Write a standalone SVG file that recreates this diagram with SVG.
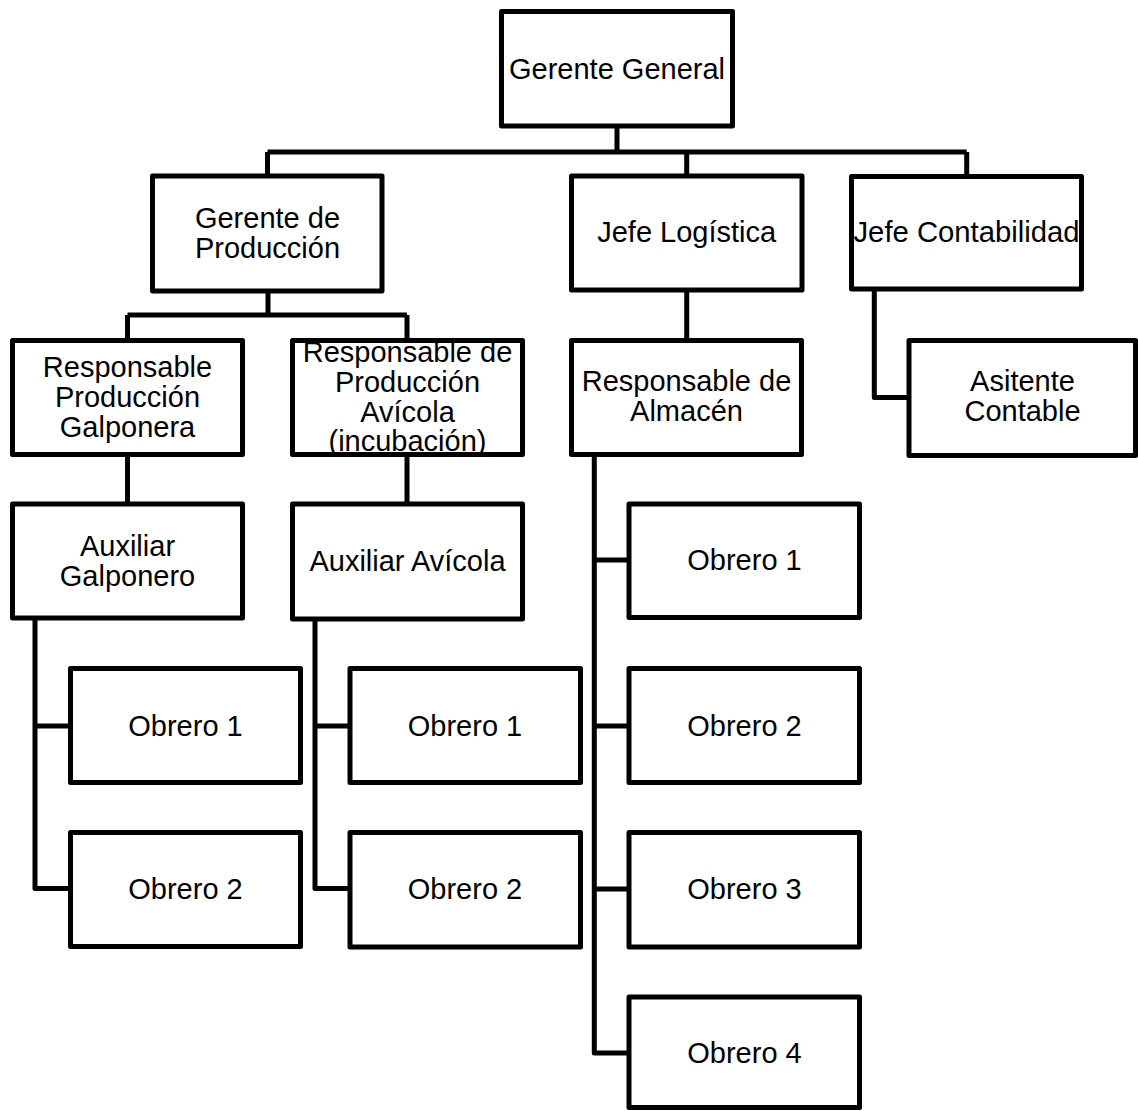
<svg xmlns="http://www.w3.org/2000/svg" width="1138" height="1111" viewBox="0 0 1138 1111">
  <style>
    .box { fill: #ffffff; stroke: #000000; stroke-width: 5; stroke-linejoin: round; }
    .link { fill: none; stroke: #000000; stroke-width: 5; stroke-linejoin: round; stroke-linecap: butt; }
    text { font-family: "Liberation Sans", Arial, sans-serif; font-size: 29px; fill: #000000; text-anchor: middle; }
  </style>
  <rect width="1138" height="1111" fill="#ffffff"/>

  <!-- connectors -->
  <g id="connectors">
    <path class="link" d="M617,126 V152 M267.5,152 H966.7 M267.5,152 V176 M686.7,152 V176 M966.7,152 V176"/>
    <path class="link" d="M268,291 V315 M127.5,315 H407 M127.5,315 V340.5 M407,315 V340.5"/>
    <path class="link" d="M686.7,290 V340.5"/>
    <path class="link" d="M874.3,289 V397.5 H909"/>
    <path class="link" d="M127.5,454.5 V504 M407,454.5 V504"/>
    <path class="link" d="M35,618 V888.5 H70.5 M35,726 H70.5"/>
    <path class="link" d="M315,618 V888.5 H350 M315,726 H350"/>
    <path class="link" d="M594.3,454.5 V1053 H629 M594.3,560 H629 M594.3,726 H629 M594.3,889 H629"/>
  </g>

  <!-- level 1 -->
  <g id="gerente-general">
    <rect class="box" x="501.5" y="11.5" width="231" height="114.5"/>
    <text x="617" y="78.5">Gerente General</text>
  </g>

  <!-- level 2 -->
  <g id="gerente-produccion">
    <rect class="box" x="152.5" y="176" width="229.5" height="115"/>
    <text x="267.5" y="227.5">Gerente de</text>
    <text x="267.5" y="257.5">Producción</text>
  </g>
  <g id="jefe-logistica">
    <rect class="box" x="571.5" y="176" width="230.5" height="114"/>
    <text x="686.7" y="242">Jefe Logística</text>
  </g>
  <g id="jefe-contabilidad">
    <rect class="box" x="851.5" y="176.5" width="230" height="112.5"/>
    <text x="966.5" y="242" textLength="226" lengthAdjust="spacingAndGlyphs">Jefe Contabilidad</text>
  </g>

  <!-- level 3 -->
  <g id="resp-prod-galponera">
    <rect class="box" x="12.5" y="340.5" width="230" height="114"/>
    <text x="127.5" y="376.5">Responsable</text>
    <text x="127.5" y="406.5">Producción</text>
    <text x="127.5" y="436.5">Galponera</text>
  </g>
  <g id="resp-prod-avicola">
    <rect class="box" x="292.5" y="340.5" width="230" height="114"/>
    <text x="407.5" y="362">Responsable de</text>
    <text x="407.5" y="392">Producción</text>
    <text x="407.5" y="422">Avícola</text>
    <text x="407.5" y="451">(incubación)</text>
  </g>
  <g id="resp-almacen">
    <rect class="box" x="571.5" y="340.5" width="230" height="114"/>
    <text x="686.5" y="391">Responsable de</text>
    <text x="686.5" y="421">Almacén</text>
  </g>
  <g id="asistente-contable">
    <rect class="box" x="909" y="340.5" width="226.5" height="115"/>
    <text x="1022.5" y="391">Asitente</text>
    <text x="1022.5" y="421">Contable</text>
  </g>

  <!-- level 4 -->
  <g id="auxiliar-galponero">
    <rect class="box" x="12.5" y="504" width="230" height="114"/>
    <text x="127.5" y="555.5">Auxiliar</text>
    <text x="127.5" y="585.5">Galponero</text>
  </g>
  <g id="auxiliar-avicola">
    <rect class="box" x="292.5" y="504" width="230" height="115"/>
    <text x="407.5" y="570.5">Auxiliar Avícola</text>
  </g>
  <g id="almacen-obrero-1">
    <rect class="box" x="629" y="504" width="230.5" height="113.5"/>
    <text x="744.5" y="570">Obrero 1</text>
  </g>

  <!-- workers -->
  <g id="galponero-obrero-1">
    <rect class="box" x="70.5" y="668.5" width="230" height="114"/>
    <text x="185.5" y="735.5">Obrero 1</text>
  </g>
  <g id="galponero-obrero-2">
    <rect class="box" x="70.5" y="832.5" width="230" height="114"/>
    <text x="185.5" y="899">Obrero 2</text>
  </g>
  <g id="avicola-obrero-1">
    <rect class="box" x="350" y="668.5" width="230.5" height="114"/>
    <text x="465" y="735.5">Obrero 1</text>
  </g>
  <g id="avicola-obrero-2">
    <rect class="box" x="350" y="832.5" width="230.5" height="114.5"/>
    <text x="465" y="899">Obrero 2</text>
  </g>
  <g id="almacen-obrero-2">
    <rect class="box" x="629" y="668.5" width="230.5" height="114"/>
    <text x="744.5" y="735.5">Obrero 2</text>
  </g>
  <g id="almacen-obrero-3">
    <rect class="box" x="629" y="832.5" width="230.5" height="114.5"/>
    <text x="744.5" y="899">Obrero 3</text>
  </g>
  <g id="almacen-obrero-4">
    <rect class="box" x="629" y="997" width="230.5" height="110.5"/>
    <text x="744.5" y="1063">Obrero 4</text>
  </g>
</svg>
